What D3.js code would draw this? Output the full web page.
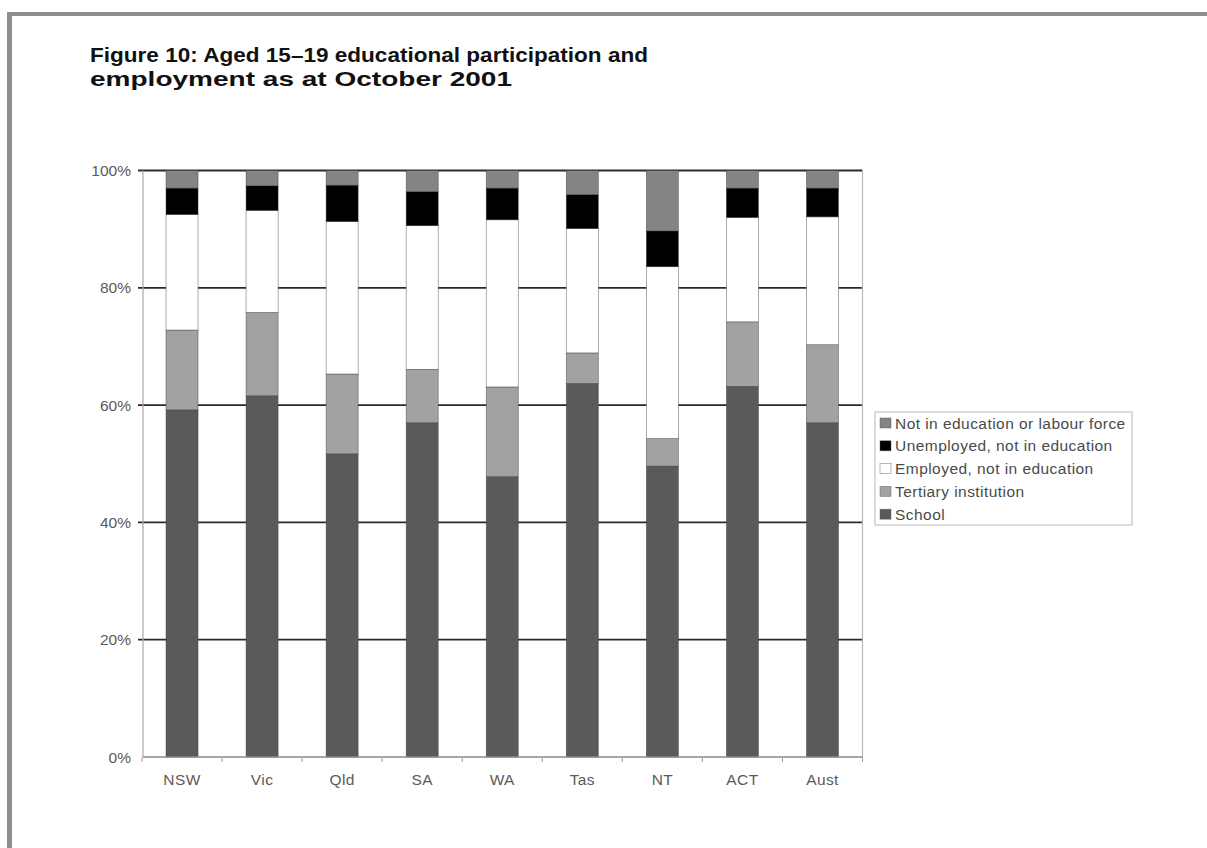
<!DOCTYPE html>
<html>
<head>
<meta charset="utf-8">
<script src="https://cdn.jsdelivr.net/npm/d3@7"></script>
<style>
  html, body { margin: 0; padding: 0; background: #fff; }
  svg { display: block; }
</style>
</head>
<body>
<svg id="chart" width="1207" height="848"></svg>
<script>
// ---- data (percent of 15-19 year olds) ----
const categories = ["NSW", "Vic", "Qld", "SA", "WA", "Tas", "NT", "ACT", "Aust"];
const school      = [59.2, 61.6, 51.7, 57.0, 47.8, 63.7, 49.6, 63.2, 57.0];
const tertiary    = [13.6, 14.2, 13.6,  9.1, 15.3,  5.2,  4.7, 11.0, 13.3];
const employed    = [19.7, 17.4, 26.0, 24.5, 28.5, 21.2, 29.3, 17.8, 21.8];
const unemployed  = [ 4.5,  4.2,  6.2,  5.8,  5.4,  5.8,  6.1,  5.0,  4.9];
const notInLF     = [ 3.0,  2.6,  2.5,  3.6,  3.0,  4.1, 10.3,  3.0,  3.0];
const seriesNames = ["School", "Tertiary institution", "Employed, not in education",
                     "Unemployed, not in education", "Not in education or labour force"];
const yTickValues = [0, 20, 40, 60, 80, 100];
const yTickLabels = ["0%", "20%", "40%", "60%", "80%", "100%"];
const titleLines = ["Figure 10: Aged 15\u201319 educational participation and",
                    "employment as at October 2001"];

// ---- build table ----
const keys = ["school", "tertiary", "employed", "unemployed", "notInLF"];
const table = categories.map((c, i) => ({
  cat: c, school: school[i], tertiary: tertiary[i], employed: employed[i],
  unemployed: unemployed[i], notInLF: notInLF[i]
}));
const colors = {school: "#5a5a5a", tertiary: "#a2a2a2", employed: "#ffffff",
                unemployed: "#000000", notInLF: "#848484"};

const svg = d3.select("#chart");
svg.append("rect").attr("width", 1207).attr("height", 848).attr("fill", "#fff");

// frame
svg.append("rect").attr("x", 7).attr("y", 12).attr("width", 1200).attr("height", 4).attr("fill", "#8e8e8e");
svg.append("rect").attr("x", 7).attr("y", 12).attr("width", 5).attr("height", 836).attr("fill", "#8e8e8e");

// title (two lines)
const titleWidths = [558, 422];
titleLines.forEach((t, i) => {
  svg.append("text")
    .attr("x", 90).attr("y", 61.5 + i * 24)
    .attr("font-family", "'Liberation Sans', Arial, sans-serif")
    .attr("font-weight", 700)
    .attr("font-size", 21)
    .attr("fill", "#111")
    .attr("textLength", titleWidths[i])
    .attr("lengthAdjust", "spacingAndGlyphs")
    .text(t);
});

// scales
const x = d3.scaleBand().domain(categories).range([142, 862.5]).paddingInner(0.6).paddingOuter(0.3);
const y = d3.scaleLinear().domain([0, 100]).range([757, 170.5]);
const plotL = 143, plotR = 862.5;

// gridlines
svg.append("g").selectAll("line").data(yTickValues.filter(v => v > 0)).join("line")
  .attr("x1", plotL - 5).attr("x2", plotR)
  .attr("y1", d => y(d)).attr("y2", d => y(d))
  .attr("stroke", "#2a2a2a").attr("stroke-width", 1.8);

// plot side lines
svg.append("line").attr("x1", plotL).attr("x2", plotL).attr("y1", y(100)).attr("y2", y(0))
  .attr("stroke", "#a8a8a8").attr("stroke-width", 1.2);
svg.append("line").attr("x1", plotR).attr("x2", plotR).attr("y1", y(100)).attr("y2", y(0))
  .attr("stroke", "#b8b8b8").attr("stroke-width", 1.2);

// bars
const stack = d3.stack().keys(keys)(table);
svg.append("g").selectAll("g").data(stack).join("g")
  .attr("fill", d => colors[d.key])
  .selectAll("rect").data(d => d).join("rect")
  .attr("x", d => x(d.data.cat))
  .attr("width", x.bandwidth())
  .attr("y", d => y(d[1]))
  .attr("height", d => y(d[0]) - y(d[1]))
  .attr("stroke", "#3a3a3a").attr("stroke-width", 0.7).attr("stroke-opacity", 0.6);

// x axis
const xAxisG = svg.append("g");
xAxisG.append("line").attr("x1", plotL).attr("x2", plotR).attr("y1", y(0)).attr("y2", y(0))
  .attr("stroke", "#8a8a8a").attr("stroke-width", 1.3);
const bounds = categories.map((c, i) => 142 + i * (720.5 / categories.length)).concat([862.5]);
xAxisG.selectAll("line.tick").data(bounds).join("line").attr("class", "tick")
  .attr("x1", d => d).attr("x2", d => d).attr("y1", y(0)).attr("y2", y(0) + 5)
  .attr("stroke", "#a0a0a0").attr("stroke-width", 1);
xAxisG.selectAll("text").data(categories).join("text")
  .attr("x", d => x(d) + x.bandwidth() / 2)
  .attr("y", 785)
  .attr("text-anchor", "middle")
  .attr("font-family", "'Liberation Sans', Arial, sans-serif")
  .attr("font-size", 15.5)
  .attr("letter-spacing", 0.4)
  .attr("fill", "#5a5a5a")
  .text(d => d);

// y axis labels
svg.append("g").selectAll("text").data(yTickValues).join("text")
  .attr("x", 131).attr("y", d => y(d) + 5.5)
  .attr("text-anchor", "end")
  .attr("font-family", "'Liberation Sans', Arial, sans-serif")
  .attr("font-size", 15.5)
  .attr("fill", "#5a5a5a")
  .text((d, i) => yTickLabels[i]);

// legend
const legend = svg.append("g");
legend.append("rect").attr("x", 875).attr("y", 412).attr("width", 257).attr("height", 113)
  .attr("fill", "#fff").attr("stroke", "#c4c4c4").attr("stroke-width", 1.2);
const legendKeys = keys.slice().reverse();
const legendNames = seriesNames.slice().reverse();
legendKeys.forEach((k, i) => {
  const cy = 423 + i * 22.8;
  legend.append("rect").attr("x", 880).attr("y", cy - 5).attr("width", 11).attr("height", 10)
    .attr("fill", colors[k]).attr("stroke", "#555").attr("stroke-width", 0.7).attr("stroke-opacity", 0.6);
  legend.append("text").attr("x", 895).attr("y", cy + 5.5)
    .attr("font-family", "'Liberation Sans', Arial, sans-serif")
    .attr("font-size", 15.5)
    .attr("letter-spacing", 0.45)
    .attr("fill", "#4a4a4a")
    .text(legendNames[i]);
});
</script>
</body>
</html>
